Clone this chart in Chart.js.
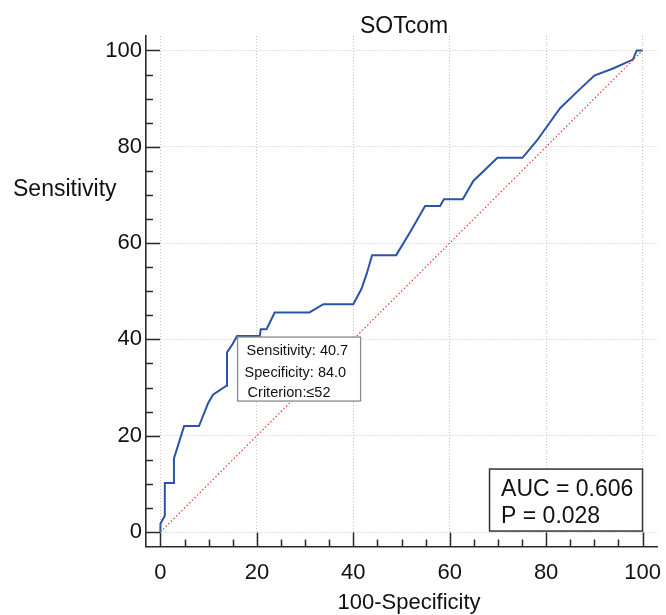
<!DOCTYPE html>
<html>
<head>
<meta charset="utf-8">
<script src="https://cdn.jsdelivr.net/npm/chart.js@4.4.1/dist/chart.umd.min.js"></script>
<style>
html,body{margin:0;padding:0;background:#fff;}
canvas{display:block;}
</style>
</head>
<body>
<canvas id="c" width="666" height="615"></canvas>
<script>
// ---- data ----
const chartTitle = 'SOTcom';
const xTitle = '100-Specificity';
const yTitle = 'Sensitivity';
const fpr = [0,0,0.9,0.9,2.8,2.8,4.9,8.0,9.9,10.9,13.7,13.8,15.0,15.9,20.6,20.8,22.0,23.7,30.9,33.8,40.0,41.7,42.8,43.9,48.9,51.8,54.9,58.0,58.8,62.7,64.9,69.9,75.1,78.1,82.9,86.4,90.0,94.0,98.0,98.8,100];
const tpr = [0,1.7,3.4,10.2,10.2,15.3,22.0,22.0,26.8,28.5,30.4,37.3,39.1,40.7,40.7,42.1,42.1,45.6,45.6,47.3,47.3,50.5,53.7,57.5,57.5,62.3,67.7,67.7,69.1,69.1,72.9,77.7,77.7,81.3,88.0,91.4,94.8,96.3,98.1,100,100];
const diagX = [0,100];
const diagY = [0,100];
const tickValues = [0,5,10,15,20,25,30,35,40,45,50,55,60,65,70,75,80,85,90,95,100];
const majorTicks = [0,20,40,60,80,100];
const cutoffPoint = {x:16.0, y:40.7};
const cutoffLines = ['Sensitivity: 40.7','Specificity: 84.0','Criterion:\u226452'];
const statsLines = ['AUC = 0.606','P = 0.028'];

const FONT = '"Liberation Sans", Arial, Helvetica, sans-serif';

const rocPts = fpr.map((v,i)=>({x:v,y:tpr[i]}));
const diagPts = diagX.map((v,i)=>({x:v,y:diagY[i]}));

const isMajor = v => majorTicks.includes(v);

function setTicks(scale){
  scale.ticks = tickValues.map(v=>({value:v}));
}

const decor = {
  id:'decor',
  afterDraw(chart){
    const ctx = chart.ctx;
    const xs = chart.scales.x, ys = chart.scales.y;
    const ca = chart.chartArea;
    ctx.save();
    // inward tick marks
    ctx.strokeStyle = '#2a2a2a';
    ctx.lineWidth = 1.5;
    ctx.beginPath();
    tickValues.forEach(v=>{
      const len = isMajor(v) ? 14 : 7;
      const py = Math.round(ys.getPixelForValue(v)) + 0.5;
      ctx.moveTo(ca.left, py); ctx.lineTo(ca.left + len, py);
      const px = Math.round(xs.getPixelForValue(v)) + 0.5;
      ctx.moveTo(px, ca.bottom); ctx.lineTo(px, ca.bottom - len);
    });
    ctx.stroke();

    // titles
    ctx.fillStyle = '#111';
    ctx.textBaseline = 'alphabetic';
    ctx.font = '23px ' + FONT;
    ctx.textAlign = 'center';
    ctx.fillText(chartTitle, 404, 33);
    ctx.font = '22px ' + FONT;
    ctx.fillText(xTitle, 409, 609);
    ctx.textAlign = 'left';
    ctx.font = '23px ' + FONT;
    ctx.fillText(yTitle, 13, 196);

    // cutoff annotation box anchored at the cutoff point
    const bx = xs.getPixelForValue(cutoffPoint.x);
    const by = ys.getPixelForValue(cutoffPoint.y) + 1;
    ctx.fillStyle = '#fff';
    ctx.fillRect(bx, by, 123, 64);
    ctx.strokeStyle = '#8a8a8a';
    ctx.lineWidth = 1.3;
    ctx.strokeRect(bx, by, 123, 64);
    ctx.fillStyle = '#111';
    ctx.font = '14.5px ' + FONT;
    const offs = [9, 7, 10];
    const bases = [18, 40, 60];
    cutoffLines.forEach((t,i)=>ctx.fillText(t, bx + offs[i], by + bases[i]));

    // AUC box at bottom right
    const rx = xs.getPixelForValue(100);
    const ry = ys.getPixelForValue(0) - 1;
    const w = 153, h = 62;
    ctx.fillStyle = '#fff';
    ctx.fillRect(rx - w, ry - h, w, h);
    ctx.strokeStyle = '#333';
    ctx.lineWidth = 1.5;
    ctx.strokeRect(rx - w, ry - h, w, h);
    ctx.fillStyle = '#111';
    ctx.font = '23px ' + FONT;
    ctx.fillText(statsLines[0], rx - w + 11.5, ry - h + 27);
    ctx.fillText(statsLines[1], rx - w + 11.5, ry - h + 53.5);
    ctx.restore();
  }
};

const gridColor = c => (c.tick && isMajor(c.tick.value)) ? '#c4c4c4' : 'rgba(0,0,0,0)';

new Chart(document.getElementById('c'), {
  type:'scatter',
  data:{
    datasets:[
      {data:diagPts, showLine:true, borderColor:'#e0442a', borderWidth:1.2, borderDash:[1.5,2.2], pointRadius:0, fill:false},
      {data:rocPts, showLine:true, borderColor:'#2b53a6', borderWidth:2, pointRadius:0, tension:0, fill:false}
    ]
  },
  options:{
    responsive:false,
    animation:false,
    devicePixelRatio:1,
    layout:{padding:{left:10, right:9, top:36, bottom:23.5}},
    plugins:{legend:{display:false}, tooltip:{enabled:false}, title:{display:false}},
    scales:{
      x:{
        type:'linear', min:-3, max:103,
        afterBuildTicks:setTicks,
        afterFit:s=>{s.height = 45; s.paddingLeft = 0; s.paddingRight = 0; s.paddingTop = 0; s.paddingBottom = 0;},
        grid:{color:gridColor, lineWidth:1, drawTicks:false},
        border:{display:true, color:'#2a2a2a', width:1.6, dash:[1,2]},
        ticks:{padding:13, color:'#111', font:{family:FONT, size:22}, maxRotation:0, autoSkip:false,
          callback:v=>isMajor(v)?String(v):''}
      },
      y:{
        type:'linear', min:-3, max:103,
        afterBuildTicks:setTicks,
        afterFit:s=>{s.width = 136; s.paddingLeft = 0; s.paddingRight = 0; s.paddingTop = 0; s.paddingBottom = 0;},
        grid:{color:gridColor, lineWidth:1, drawTicks:false},
        border:{display:true, color:'#2a2a2a', width:1.6, dash:[1,2]},
        ticks:{padding:4, color:'#111', font:{family:FONT, size:22}, autoSkip:false,
          callback:v=>isMajor(v)?String(v):''}
      }
    }
  },
  plugins:[decor]
});
</script>
</body>
</html>
